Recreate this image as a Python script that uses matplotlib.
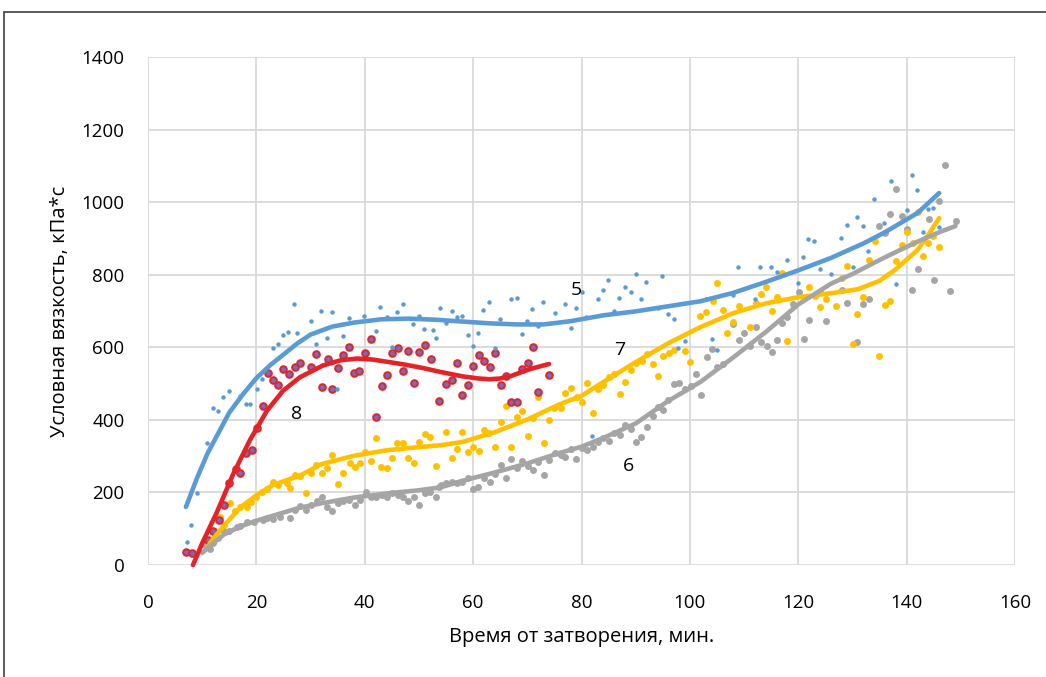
import numpy as np
import matplotlib
matplotlib.use("Agg")
import matplotlib.pyplot as plt
from matplotlib.patches import Rectangle

plt.rcParams['font.family'] = ['Open Sans', 'DejaVu Sans']

# series 5 (blue), scatter
x5 = [7.2, 7.9, 9, 10.9, 12, 12.9, 13.8, 15, 17, 18.1, 18.8, 20.1, 21, 23, 24, 24.9, 25.8, 26.9, 27.5,
      30.1, 31, 31.9, 33, 34, 34.9, 36, 37.1, 39.9, 42.1, 42.8, 44.1, 45, 45.9, 47, 48.9, 50, 50.9,
      52.6, 53.1, 53.9, 55, 56.1, 57, 57.9, 59, 60, 60.9, 61.8, 62.9, 64, 64.9, 67, 68.1, 69, 69.9,
      70.8, 72, 72.9, 75.1, 76.9, 78, 79, 80.1, 80.8, 81.9, 83, 83.9, 84.9, 86, 86.9, 88, 89.1, 90,
      91, 91.9, 94.1, 94.8, 95.9, 97, 97.8, 99.1, 102.9, 104.1, 105, 108, 108.9, 112, 112.9, 114.9,
      116, 117.9, 119.9, 120.8, 121.8, 122.9, 124, 126, 127.9, 129, 130.1, 130.8, 131.9, 132.8,
      133.9, 135.8, 137.1, 138, 140, 141, 141.9, 143, 143.9, 144.8, 145.9]
y5 = [64, 110, 198, 337, 432, 425, 462, 479, 466, 443, 443, 485, 512, 598, 609, 634, 642, 719, 639,
      672, 609, 700, 625, 697, 485, 631, 680, 686, 645, 711, 683, 601, 697, 719, 664, 686, 650,
      647, 625, 708, 667, 700, 683, 686, 634, 603, 639, 702, 725, 598, 678, 733, 736, 636, 672,
      705, 658, 725, 694, 719, 653, 708, 752, 683, 355, 733, 758, 785, 700, 736, 766, 752, 802,
      733, 780, 708, 796, 691, 678, 598, 617, 733, 623, 592, 744, 821, 733, 821, 821,
      807, 840, 777, 848, 898, 893, 815, 802, 901, 937, 821, 959, 934, 865,
      1008, 942, 1058, 774, 978, 1074, 1033, 917, 981, 983, 931]

# series 8 (red), scatter
x8 = [7, 8.1, 11.1, 12, 13.1, 14, 15, 16.2, 17, 18.1, 19.2, 20.1, 21.2, 22.1, 23.1, 24, 24.9, 26,
      27.1, 28, 30.1, 31, 32.1, 33.2, 34, 35.1, 36, 37.1, 38, 38.9, 40, 41.1, 42.1, 43.2, 44.1, 45,
      46.1, 47, 48, 49.1, 50, 51.1, 52.2, 53.7, 55, 56.1, 57, 57.9, 59, 60, 61.1, 62, 63.1, 64,
      65.1, 66, 67, 68.1, 69, 70.1, 71, 72, 74]
y8 = [36, 33, 69, 94, 124, 165, 226, 264, 253, 309, 317, 377, 438, 529, 510, 496, 540, 526,
      545, 556, 545, 581, 490, 567, 485, 543, 578, 601, 529, 534, 584, 623, 408, 493, 523, 584,
      597, 534, 590, 501, 587, 606, 567, 452, 499, 510, 556, 468, 496, 548, 578, 562, 545, 584,
      496, 521, 449, 449, 540, 556, 601, 477, 523]

# series 7 (yellow), scatter
x7 = [11.7, 12, 13.3, 14, 15.1, 16, 17, 18.2, 19, 20, 21, 22, 23.1, 24, 25.6, 26.2, 27.1, 28, 29.2,
      30.1, 31, 32.1, 33, 34, 35.1, 36, 37.3, 38.2, 39.1, 40, 41.1, 42.1, 43, 44.1, 45, 45.9, 47,
      48, 49.1, 50, 51.1, 52, 53.1, 55, 56.1, 57, 57.9, 59, 60, 61.1, 62, 62.9, 64, 65.1, 66, 67,
      68.1, 69, 70.1, 71, 72, 73.1, 74, 74.9, 76.2, 76.9, 78, 79.2, 80.1, 81, 82.1, 83, 84, 85.1,
      86, 87.1, 88, 89.1, 90, 91.1, 92.1, 93.2, 94.1, 95, 96.1, 97, 99.1, 100, 101.8, 103, 104.2,
      105, 106.1, 106.8, 108, 109, 111.1, 112.2, 113.1, 114, 115.1, 116, 117, 117.9, 122, 123,
      124, 125.1, 126.9, 128, 129, 130.1, 130.8, 131.9, 133, 134.1, 134.9, 136, 136.9, 138,
      139.1, 140, 141.1, 142.1, 143, 143.9, 144.8, 145.9]
y7 = [60, 70, 133, 110, 170, 150, 160, 161, 175, 188, 200, 210, 229, 220, 226, 212, 248, 245, 198,
      253, 275, 253, 267, 303, 223, 253, 281, 270, 281, 311, 286, 350, 270, 267, 295, 336, 336,
      295, 281, 339, 361, 353, 273, 366, 295, 320, 366, 311, 325, 314, 372, 364, 325, 394, 438, 325,
      408, 424, 355, 405, 463, 336, 399, 432, 432, 474, 488, 463, 449, 501, 419, 485, 496, 518,
      526, 471, 504, 537, 556, 562, 581, 554, 521, 576, 584, 592, 590, 559, 686, 697, 727,
      777, 702, 639, 669, 713, 656, 722, 747, 766, 700, 738, 804, 617, 766, 741,
      711, 733, 713, 791, 824, 609, 691, 738, 840, 893, 576, 716, 727, 837,
      882, 917, 887, 972, 851, 887, 906, 876]

# series 6 (grey), scatter
x6 = [10.5, 11.4, 12, 13, 13.9, 15, 16.4, 17, 18.2, 19.5, 21.2, 22, 23.1, 24.4, 26.2, 27.1, 28, 29.2,
      30.1, 31.2, 32.1, 33, 34, 35.1, 36, 37.1, 38.2, 39.1, 40.2, 41.1, 42.1, 43.2, 44.1, 45, 46.1,
      47, 48, 49.1, 50, 51.1, 52, 53.1, 53.7, 54, 55, 56.1, 57, 57.9, 59, 60, 60.9, 62, 63.1, 64,
      65.1, 66, 67, 68.1, 69, 70.1, 71, 72, 73.1, 74, 75.1, 76.2, 76.9, 78, 79, 80.1, 81, 82.1, 83,
      84, 85.1, 86, 87.1, 88, 89.1, 90, 91, 92.1, 93.2, 94.1, 95, 95.9, 97, 98, 99.1, 100.2, 101.1,
      102, 103.1, 104.1, 105, 106.1, 108, 109, 110, 111.1, 112.2, 113.1, 114.2, 115.1, 116, 117,
      117.9, 119, 120.1, 121, 122, 124, 125.1, 128, 129, 130.8, 131.9, 133, 134.9, 136, 136.9,
      138, 139.1, 140, 141, 142.1, 144.1, 145, 145.9, 147, 148, 149.1]
y6 = [55, 45, 60, 75, 96, 95, 106, 108, 119, 118, 124, 130, 127, 133, 129, 151, 163, 151,
      165, 176, 187, 160, 149, 171, 176, 179, 165, 179, 201, 187, 187, 193, 187, 198, 193,
      187, 176, 187, 165, 198, 201, 187, 215, 220, 226, 229, 226, 229, 240, 209, 215, 240, 229, 251,
      275, 240, 292, 267, 287, 273, 262, 284, 248, 289, 309, 303, 298, 320, 292, 322, 317, 325, 339,
      350, 342, 364, 358, 386, 375, 339, 353, 380, 410, 435, 427, 455, 499, 501, 485, 493, 526,
      468, 573, 595, 545, 554, 664, 620, 639, 603, 656, 614, 603, 587, 620, 667,
      683, 719, 752, 623, 675, 752, 672, 758, 722, 614, 719, 733, 934, 915, 967,
      1036, 961, 926, 758, 815, 953, 785, 1003, 1102, 755, 948]

# trend lines
tx5 = [7, 9, 11, 13, 15, 17.5, 20, 22.5, 25, 27.5, 30, 34, 38, 43, 48, 53, 58, 63, 68, 73, 78, 84,
       90, 96, 102, 108, 114, 120, 126, 132, 136, 142, 146]
ty5 = [160, 238, 308, 364, 420, 470, 515, 550, 580, 610, 635, 657, 668, 677, 679, 676, 671, 666,
       663, 663, 672, 688, 699, 713, 727, 750, 780, 812, 846, 886, 917, 970, 1025]
tx8 = [8.3, 10, 12.7, 15.7, 18.8, 21.9, 24.9, 28, 32.3, 35.5, 38.6, 41.5, 44.6, 47.5, 50.7, 54, 58,
       61, 63, 65, 67, 70.5, 74]
ty8 = [0, 60, 145, 250, 344, 424, 480, 517, 550, 564, 569, 566, 559, 552, 543, 532, 520, 514,
       512, 514, 521, 540, 554]
tx7 = [11, 12, 14, 17, 20, 23, 26, 28, 32, 38, 44, 50, 54, 58, 64, 70, 76, 80, 84, 90, 96, 102,
       108, 114, 120, 126, 131, 135, 138, 142, 144, 146]
ty7 = [50, 72, 108, 158, 192, 220, 236, 246, 278, 301, 316, 325, 330, 339, 366, 401, 443, 466,
       504, 559, 611, 656, 694, 721, 738, 749, 760, 783, 815, 868, 910, 956]
tx6 = [10, 12, 14, 17, 20, 24, 28, 32, 38, 44, 50, 54, 58, 64, 70, 76, 80, 84, 90, 96, 102, 108,
       114, 120, 126, 130, 136, 142, 146, 149]
ty6 = [33, 60, 84, 106, 122, 140, 158, 170, 186, 197, 206, 214, 232, 255, 280, 309, 326, 350,
       390, 452, 505, 572, 642, 718, 775, 802, 848, 891, 917, 934]

labels = ['5', '6', '7', '8']
label_x = [79, 88.7, 87.1, 27.5]
label_y = [758, 273, 592, 416]

c_blue = '#5b9bd5'
c_red = '#e52228'
c_yel = '#ffc000'
c_gray = '#a5a5a5'

fig = plt.figure(figsize=(10.46, 6.77), dpi=100)
ax = fig.add_axes([148/1046, 1 - 565/677, (1015-148)/1046, (565-57)/677])

ax.plot(x6, y6, 'o', color=c_gray, ms=5, mec='none', zorder=3)
ax.plot(x7, y7, 'o', color=c_yel, ms=5, mec='none', zorder=3)
ax.plot(x8, y8, 'o', mfc='#6d6fc0', mec=c_red, mew=1.4, ms=4.8, zorder=3)
ax.plot(x5, y5, 'o', color=c_blue, ms=3.2, mec='none', zorder=3)

ax.plot(tx7, ty7, '-', color=c_yel, lw=3.3, solid_capstyle='round', zorder=4)
ax.plot(tx6, ty6, '-', color=c_gray, lw=3.3, solid_capstyle='round', zorder=4)
ax.plot(tx8, ty8, '-', color=c_red, lw=3.3, solid_capstyle='round', zorder=4, clip_on=False)
ax.plot(tx5, ty5, '-', color=c_blue, lw=3.3, solid_capstyle='round', zorder=4)

for t, lx, ly in zip(labels, label_x, label_y):
    ax.text(lx, ly, t, fontsize=14, ha='center', va='center', zorder=5)

ax.set_xlim(0, 160)
ax.set_ylim(0, 1400)
ax.set_xticks(np.arange(0, 161, 20))
ax.set_yticks(np.arange(0, 1401, 200))
ax.grid(True, color='#d9d9d9', lw=1.3)
ax.set_axisbelow(True)
for s in ax.spines.values():
    s.set_visible(False)
ax.tick_params(length=0, labelsize=13.5)
ax.tick_params(axis='x', pad=21)
ax.tick_params(axis='y', pad=17)
ax.set_xlabel('Время от затворения, мин.', fontsize=14.5, labelpad=11)
ax.set_ylabel('Условная вязкость, кПа*с', fontsize=14.5, labelpad=8)

# outer frame of the figure (left and top edges visible)
fig.patches.append(Rectangle((4/1046, -0.1), 1.2, 1 - 12/677 + 0.1, transform=fig.transFigure,
                             fill=False, ec='#404040', lw=1.2))

fig.savefig('out.png', dpi=100)
